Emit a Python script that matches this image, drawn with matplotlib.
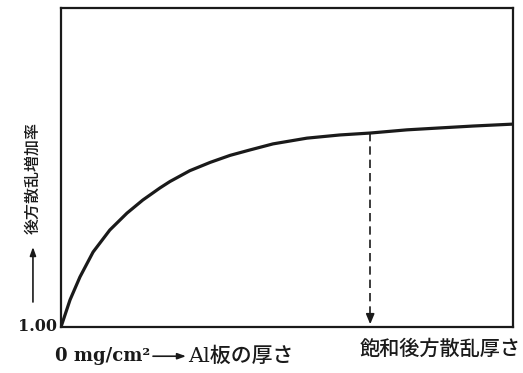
import matplotlib.pyplot as plt
from matplotlib.patches import FancyArrowPatch

# Al plate thickness (arbitrary units, 0..100) and backscatter increase ratio
thickness = [0, 2.0, 4.2, 7.1, 10.8, 14.6, 18.1, 21.9, 24.1, 28.5, 33.0,
             37.4, 41.8, 46.9, 54.4, 61.7, 68.4, 76.5, 83.8, 91.2, 100]
ratio = [1.0, 1.085, 1.157, 1.235, 1.304, 1.357, 1.398, 1.436, 1.456, 1.490,
         1.516, 1.538, 1.555, 1.574, 1.592, 1.602, 1.608, 1.618, 1.624, 1.630,
         1.636]
sat_index = 16  # saturation thickness point

ink = '#1a1a1a'
serif = ['DejaVu Serif', 'Noto Sans CJK JP']
cjk = ['Noto Sans CJK JP', 'DejaVu Sans']

fig = plt.figure(figsize=(5.23, 3.73), dpi=100)
ax = fig.add_axes([0.1166, 0.1233, 0.8644, 0.8553])

ax.plot(thickness, ratio, color=ink, lw=2.3, solid_capstyle='round',
        solid_joinstyle='round')

sx, sy = thickness[sat_index], ratio[sat_index]
ax.plot([sx, sx], [sy, 1.03], color=ink, lw=1.2, ls=(0, (5, 3)))
ax.annotate('', xy=(sx, 1.0), xytext=(sx, 1.04),
            arrowprops=dict(arrowstyle='-|>,head_length=0.6,head_width=0.25',
                            color=ink, lw=1.2))

ax.set_xlim(0, 100)
ax.set_ylim(1.0, 2.0)
ax.set_xticks([])
ax.set_yticks([])
for s in ax.spines.values():
    s.set_linewidth(1.6)
    s.set_color(ink)

arrow = dict(arrowstyle='-|>,head_length=0.5,head_width=0.18', color=ink,
             lw=1.2, shrinkA=0, shrinkB=0)

# y axis label
fig.text(0.034, 0.126, '1.00', family=serif, fontsize=11.5, weight='bold',
         va='center', ha='left', color=ink)
fig.text(0.063, 0.524, '後方散乱増加率', family=cjk, fontsize=11.5,
         weight='medium', rotation=90, va='center', ha='center', color=ink)
fig.add_artist(FancyArrowPatch(
    (0.063, 1 - 302 / 373), (0.063, 1 - 247 / 373),
    transform=fig.transFigure, mutation_scale=10, **arrow))

# x axis labels
fig.text(0.105, 0.045, '0 mg/cm²', family=serif, fontsize=13, weight='bold',
         va='center', ha='left', color=ink)
fig.add_artist(FancyArrowPatch(
    (153 / 523, 0.045), (186 / 523, 0.045),
    transform=fig.transFigure, mutation_scale=10, **arrow))
fig.text(188 / 523, 0.045, 'Al板の厚さ', family=serif, fontsize=15,
         weight='medium', va='center', ha='left', color=ink)
fig.text(0.995, 0.064, '飽和後方散乱厚さ', family=cjk, fontsize=14.5,
         weight='medium', va='center', ha='right', color=ink)

fig.savefig('out.png', dpi=100)
